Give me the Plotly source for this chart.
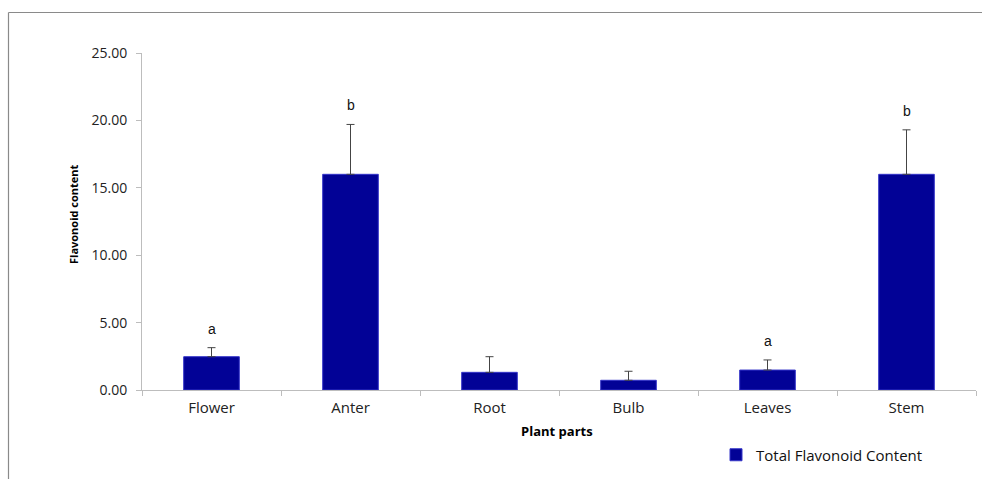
import plotly.graph_objects as go

# Flavonoid content by plant part (mean, + error) with significance letters
parts = ["Flower", "Anter", "Root", "Bulb", "Leaves", "Stem"]
flavonoid = [2.47, 16.0, 1.31, 0.72, 1.48, 16.0]
flavonoid_err = [0.67, 3.7, 1.16, 0.67, 0.75, 3.3]
letters = ["a", "b", "", "", "a", "b"]
y_ticks = [0, 5, 10, 15, 20, 25]

FONT = "Open Sans"
W, H = 982, 479
ML, MR, MT, MB = 142, 6, 53, 89
plot_w = W - ML - MR
plot_h = H - MT - MB


def px_to_paper_x(px):
    return (px - ML) / plot_w


def px_to_paper_y(py):
    return (H - MB - py) / plot_h


fig = go.Figure()
fig.add_trace(go.Bar(
    x=parts,
    y=flavonoid,
    name="Total Flavonoid Content",
    width=0.4,
    marker=dict(color="#020296", line=dict(color="#3434c8", width=1)),
    error_y=dict(type="data", array=flavonoid_err, symmetric=False,
                 arrayminus=[0] * len(parts), color="#444444",
                 thickness=1, width=4),
))

annotations = []
for p, v, e, t in zip(parts, flavonoid, flavonoid_err, letters):
    if t:
        annotations.append(dict(
            x=p, y=v + e, xref="x", yref="y", text=t, showarrow=False,
            yanchor="bottom", yshift=9,
            font=dict(family="Liberation Sans", size=14, color="#111111"),
        ))

annotations.append(dict(
    x=px_to_paper_x(74), y=px_to_paper_y(214), xref="paper", yref="paper",
    text="<b>Flavonoid content</b>", textangle=-90, showarrow=False,
    xanchor="center", yanchor="middle",
    font=dict(family=FONT, size=11, color="#000000"),
))
annotations.append(dict(
    x=px_to_paper_x(557), y=px_to_paper_y(431), xref="paper", yref="paper",
    text="<b>Plant parts</b>", showarrow=False,
    xanchor="center", yanchor="middle",
    font=dict(family=FONT, size=13, color="#000000"),
))

# Outer chart frame (left and top edges visible)
frame_color = "#8a8a8a"
shapes = [
    dict(type="line", xref="paper", yref="paper",
         x0=px_to_paper_x(8.5), x1=px_to_paper_x(8.5),
         y0=px_to_paper_y(12.5), y1=px_to_paper_y(485),
         line=dict(color=frame_color, width=1.2)),
    dict(type="line", xref="paper", yref="paper",
         x0=px_to_paper_x(8.5), x1=px_to_paper_x(990),
         y0=px_to_paper_y(12.5), y1=px_to_paper_y(12.5),
         line=dict(color=frame_color, width=1.2)),
]

fig.update_layout(
    width=W, height=H,
    margin=dict(l=ML, r=MR, t=MT, b=MB, pad=0),
    paper_bgcolor="white", plot_bgcolor="white",
    font=dict(family=FONT, size=13, color="#222222"),
    showlegend=True,
    legend=dict(x=px_to_paper_x(716), y=px_to_paper_y(455),
                xanchor="left", yanchor="middle",
                font=dict(family=FONT, size=15, color="#111111"),
                bgcolor="rgba(0,0,0,0)", itemwidth=30),
    annotations=annotations,
    shapes=shapes,
    bargap=0.6,
)

fig.update_xaxes(
    type="category", showline=True, linecolor="#bdbdbd", linewidth=1,
    ticks="outside", tickson="boundaries", ticklen=5, tickcolor="#bdbdbd",
    showgrid=False, tickfont=dict(family=FONT, size=15, color="#222222"),
    ticklabelstandoff=4, zeroline=False,
)
fig.update_yaxes(
    range=[0, 25], tickvals=y_ticks,
    ticktext=[f"{v:.2f}" for v in y_ticks],
    showline=True, linecolor="#bdbdbd", linewidth=1,
    ticks="outside", ticklen=5, tickcolor="#bdbdbd",
    showgrid=False, zeroline=False, ticklabelstandoff=6,
    tickfont=dict(family=FONT, size=14, color="#222222"),
)

fig.write_html("out.html")
